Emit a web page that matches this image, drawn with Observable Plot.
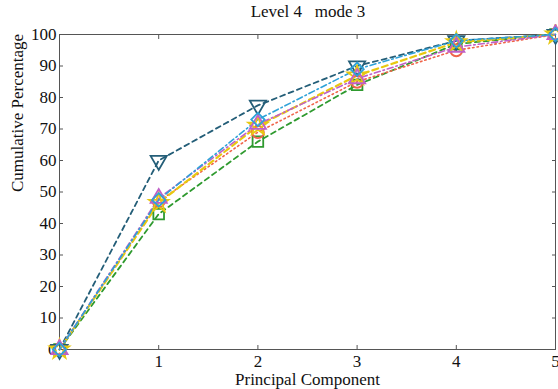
<!DOCTYPE html>
<html>
<head>
<meta charset="utf-8">
<script src="https://cdn.jsdelivr.net/npm/d3@7"></script>
<script src="https://cdn.jsdelivr.net/npm/@observablehq/plot@0.6"></script>
<style>
  body { margin: 0; background: #fff; font-family: "Liberation Serif", "DejaVu Serif", serif; }
  #title { width: 558px; height: 24px; box-sizing: border-box; padding-left: 58px; text-align: center;
           font-size: 17px; line-height: 24px; white-space: pre; color: #111; }
  svg { display: block; }
</style>
</head>
<body>
<div id="title">Level 4   mode 3</div>
<div id="chart"></div>
<script>
// Principal components on the x axis
const components = [0, 1, 2, 3, 4, 5];
const yTicks = [0, 10, 20, 30, 40, 50, 60, 70, 80, 90, 100];
const xTicks = [1, 2, 3, 4, 5];

// Cumulative percentage of variance per series
const seriesTriDown = [0, 60, 77.5, 90, 98, 100];
const seriesDiamond = [0, 47.5, 73, 89, 98, 100];
const seriesStar    = [0, 46.5, 71, 87, 97.5, 100];
const seriesTriUp   = [0, 48, 71.5, 86, 96, 100];
const seriesCircle  = [0, 47, 69, 85, 95, 100];
const seriesSquare  = [0, 43, 66, 84, 97, 100];

// Drawing order: later entries sit on top
const styles = [
  {name: "A", values: seriesSquare,  color: "#2f9a2f", dash: "5,4",       width: 1.8, symbol: "square",   rotate: 0},
  {name: "B", values: seriesCircle,  color: "#f0644a", dash: "1.5,3",     width: 1.6, symbol: "circle",   rotate: 0},
  {name: "F", values: seriesTriDown, color: "#245e78", dash: "5,4",       width: 1.8, symbol: "triangle", rotate: 180},
  {name: "D", values: seriesStar,    color: "#e8c810", dash: "6,4",       width: 2.2, symbol: "star",     rotate: 0},
  {name: "C", values: seriesTriUp,   color: "#c060c8", dash: "6,3,1.5,3", width: 1.6, symbol: "triangle", rotate: 0},
  {name: "E", values: seriesDiamond, color: "#2ea2d8", dash: "6,3,1.5,3", width: 1.6, symbol: "diamond2", rotate: 0}
];

const rows = styles.flatMap(s => components.map((c, i) => ({series: s.name, x: c, y: s.values[i]})));

const marks = [];
for (const s of styles) {
  const data = rows.filter(d => d.series === s.name);
  marks.push(Plot.line(data, {x: "x", y: "y", stroke: s.color, strokeWidth: s.width, strokeDasharray: s.dash}));
}
for (const s of styles) {
  const data = rows.filter(d => d.series === s.name);
  marks.push(Plot.dot(data, {x: "x", y: "y", stroke: s.color, strokeWidth: 1.8, r: 6, symbol: s.symbol, rotate: s.rotate, fill: "none"}));
}

const blank = () => "";

const chart = Plot.plot({
  width: 558,
  height: 365,
  marginLeft: 59,
  marginRight: 3,
  marginTop: 10,
  marginBottom: 40,
  style: {fontFamily: "Liberation Serif, DejaVu Serif, serif", fontSize: "17px", color: "#111", background: "#fff"},
  x: {domain: [0, 5]},
  y: {domain: [0, 100]},
  marks: [
    Plot.frame({stroke: "#555", strokeWidth: 1}),
    Plot.axisX(xTicks, {anchor: "bottom", tickSize: -4, tickPadding: 9, stroke: "#555", fontSize: 17, label: null}),
    Plot.axisX(components, {anchor: "top", tickSize: -4, tickFormat: blank, stroke: "#555", label: null}),
    Plot.axisY(yTicks, {anchor: "left", tickSize: -4, tickPadding: 7, stroke: "#555", fontSize: 17, label: null}),
    Plot.axisY(yTicks, {anchor: "right", tickSize: -4, tickFormat: blank, stroke: "#555", label: null}),
    Plot.text(["Principal Component"], {frameAnchor: "bottom", dy: 35, fontSize: 17, fill: "#111"}),
    Plot.text(["Cumulative Percentage"], {frameAnchor: "left", dx: -42, rotate: -90, fontSize: 17, fill: "#111"}),
    ...marks
  ]
});
document.getElementById("chart").appendChild(chart);
</script>
</body>
</html>
